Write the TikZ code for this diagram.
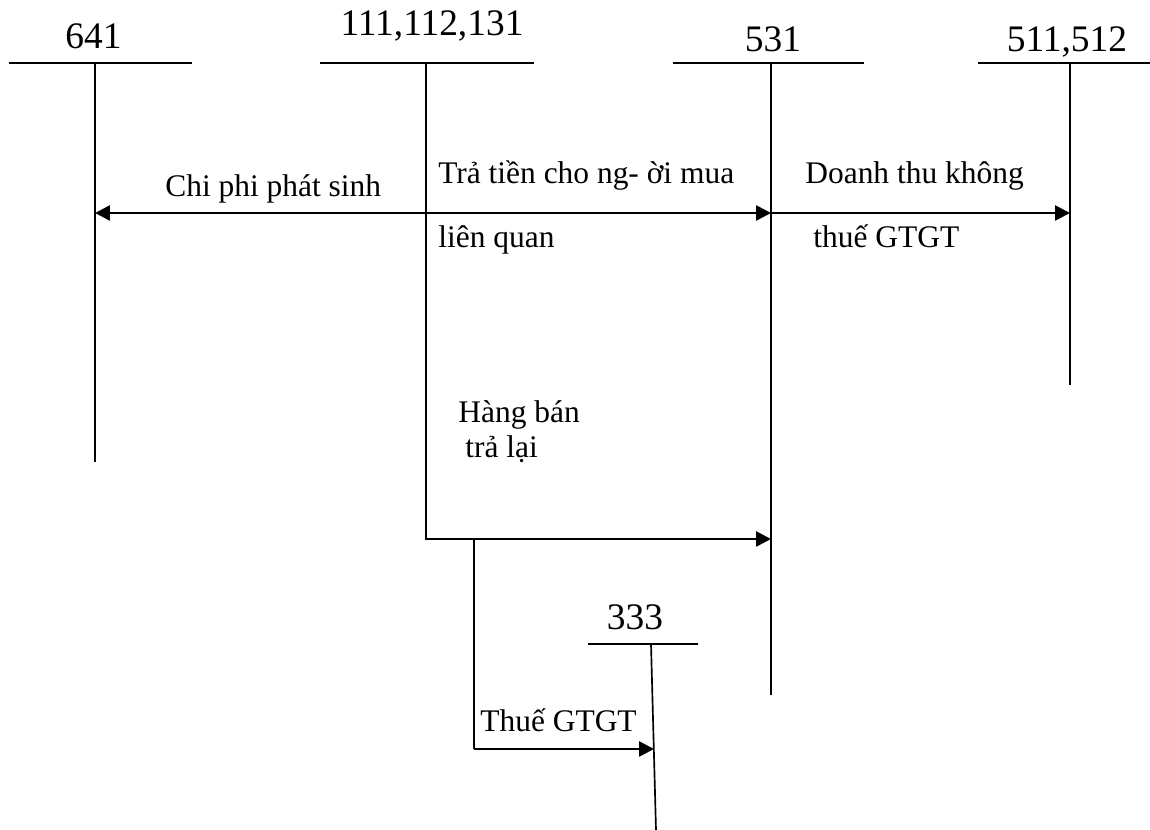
\documentclass[tikz,border=0pt]{standalone}
\usepackage{fontspec}
\setmainfont{Liberation Serif}
\usetikzlibrary{arrows.meta}

\begin{document}
\begin{tikzpicture}[x=0.02cm,y=-0.02cm,
  acct/.style={font=\fontsize{21.3}{25}\selectfont, anchor=base, inner sep=0pt},
  txt/.style={font=\fontsize{17.9}{21}\selectfont, anchor=base west, inner sep=0pt},
  tline/.style={line width=0.95pt},
  flow/.style={line width=1.5pt, -{Triangle[length=8.5pt,width=8.5pt]}}]
\useasboundingbox (0,0) rectangle (1150,830);

\def\top{63}

% T accounts
\node[acct] (n641) at (93.5,49) {641};
\draw[tline] (9,\top) -- (192,\top);
\coordinate (t641) at (95,\top);
\coordinate (b641) at (95,462);
\draw[tline] (t641) -- (b641);

\node[acct] (n111) at (432,36) {111,112,131};
\draw[tline] (320,\top) -- (534,\top);
\coordinate (t111) at (426,\top);
\coordinate (b111) at (426,540);
\draw[tline] (t111) -- (b111);

\node[acct] (n531) at (773,52) {531};
\draw[tline] (673,\top) -- (864,\top);
\coordinate (t531) at (771,\top);
\coordinate (b531) at (771,695);
\draw[tline] (t531) -- (b531);

\node[acct] (n511) at (1067,52) {511,512};
\draw[tline] (978,\top) -- (1150,\top);
\coordinate (t511) at (1070,\top);
\coordinate (b511) at (1070,385);
\draw[tline] (t511) -- (b511);

\node[acct] (n333) at (635,630) {333};
\draw[tline] (588,644) -- (698,644);
\coordinate (t333) at (651,644);
\coordinate (b333) at (656,830);
\draw[tline] (t333) -- (b333);

% flows
\coordinate (p111) at (426,213);
\coordinate (p641) at (95,213);
\coordinate (p531) at (771,213);
\coordinate (p511) at (1070,213);
\draw[flow] (p111) -- (p641);
\draw[flow] (p111) -- (p531);
\draw[flow] (p531) -- (p511);

\coordinate (q111) at (426,539);
\coordinate (q531) at (771,539);
\coordinate (qtax) at (474,539);
\coordinate (rtax) at (474,749);
\coordinate (q333) at (654,749);
\draw[flow] (q111) -- (q531);
\draw[tline] (qtax) -- (rtax);
\draw[flow] (rtax) -- (q333);

% labels
\node[txt] (chiphi) at (165,197) {Chi phi phát sinh};
\node[txt] (tratien) at (438,184) {Trả tiền cho ng- ời mua};
\node[txt] (lienquan) at (438,248) {liên quan};
\node[txt] (doanhthu) at (805,184) {Doanh thu không};
\node[txt] (thuegtgt) at (813,248) {thuế GTGT};
\node[txt] (hangban) at (458,423) {Hàng bán};
\node[txt] (tralai) at (465,458) {trả lại};
\node[txt] (thue333) at (480,732) {Thuế GTGT};
\end{tikzpicture}
\end{document}
